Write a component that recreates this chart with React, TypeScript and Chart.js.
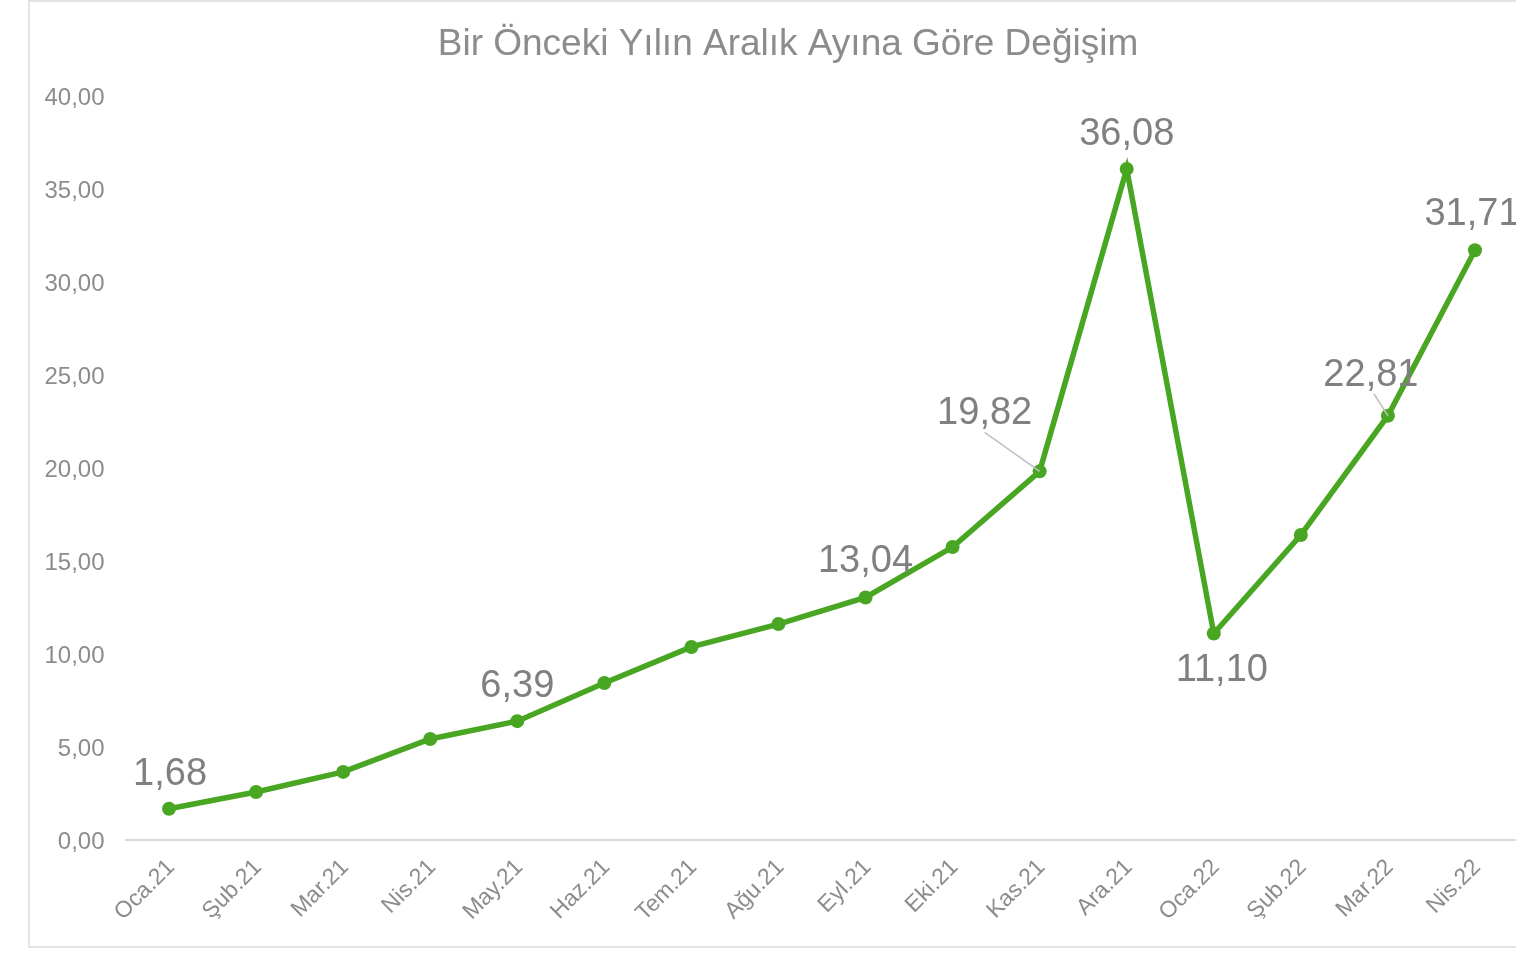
import React, { useEffect, useRef } from "react";
import { Chart, registerables } from "chart.js";

Chart.register(...registerables);

const chartTitle = "Bir Önceki Yılın Aralık Ayına Göre Değişim";
const months = [
  "Oca.21", "Şub.21", "Mar.21", "Nis.21", "May.21", "Haz.21", "Tem.21", "Ağu.21",
  "Eyl.21", "Eki.21", "Kas.21", "Ara.21", "Oca.22", "Şub.22", "Mar.22", "Nis.22",
];
const changeValues = [
  1.68, 2.58, 3.66, 5.43, 6.39, 8.44, 10.38, 11.61,
  13.04, 15.75, 19.82, 36.08, 11.1, 16.4, 22.81, 31.71,
];
// indices of points that carry a value label
const labeledPoints = [0, 4, 8, 10, 11, 12, 14, 15];
const yTicks = [0, 5, 10, 15, 20, 25, 30, 35, 40];

// label placement relative to its point (style only)
const labelPlacement: Record<number, { dx: number; dy: number; leader?: boolean }> = {
  0: { dx: 1, dy: -38 },
  4: { dx: 0, dy: -38 },
  8: { dx: 0, dy: -39 },
  10: { dx: -55, dy: -61, leader: true },
  11: { dx: 0, dy: -38 },
  12: { dx: 8, dy: 33 },
  14: { dx: -17, dy: -44, leader: true },
  15: { dx: -3, dy: -39 },
};

const fmt = (v: number) => v.toFixed(2).replace(".", ",");

const FONT = "'Liberation Sans', Arial, sans-serif";
const GREEN = "#48a622";

const titlePlugin = {
  id: "centeredTitle",
  afterDraw(chart: any) {
    const ctx = chart.ctx;
    ctx.save();
    ctx.font = `37px ${FONT}`;
    ctx.fillStyle = "#8c8c8c";
    ctx.textAlign = "center";
    ctx.textBaseline = "middle";
    ctx.fillText(chartTitle, chart.width / 2, 43);
    ctx.restore();
  },
};

const labelPlugin = {
  id: "valueLabels",
  afterDatasetsDraw(chart: any) {
    const ctx = chart.ctx;
    const meta = chart.getDatasetMeta(0);
    ctx.save();
    ctx.font = `38px ${FONT}`;
    ctx.textAlign = "center";
    ctx.textBaseline = "alphabetic";
    labeledPoints.forEach((i) => {
      const el = meta.data[i];
      if (!el) return;
      const p = labelPlacement[i] || { dx: 0, dy: -38 };
      const lx = el.x + p.dx;
      const ly = el.y + p.dy;
      if (p.leader) {
        ctx.strokeStyle = "#bfbfbf";
        ctx.lineWidth = 1.5;
        ctx.beginPath();
        const sx = lx + (p.dx < -30 ? 0 : 3);
        const sy = ly + 22;
        ctx.moveTo(sx, sy);
        ctx.lineTo(el.x, el.y);
        ctx.stroke();
      }
      ctx.fillStyle = "#808080";
      ctx.fillText(fmt(changeValues[i]), lx, ly + 14);
    });
    ctx.restore();
  },
};

export default function App() {
  const ref = useRef<HTMLCanvasElement | null>(null);

  useEffect(() => {
    if (!ref.current) return;
    const chart = new Chart(ref.current, {
      type: "line",
      data: {
        labels: months,
        datasets: [
          {
            data: changeValues,
            borderColor: GREEN,
            backgroundColor: GREEN,
            borderWidth: 5.5,
            pointRadius: 7,
            pointBackgroundColor: GREEN,
            pointBorderColor: GREEN,
            pointBorderWidth: 0,
            tension: 0,
          },
        ],
      },
      options: {
        responsive: false,
        animation: false,
        layout: { padding: { left: 0, right: 27.5, top: 94, bottom: 0 } },
        plugins: {
          legend: { display: false },
          tooltip: { enabled: false },
          title: { display: false },
        },
        scales: {
          x: {
            offset: true,
            grid: { display: false, drawTicks: false },
            border: { display: true, color: "#d9d9d9", width: 2 },
            ticks: {
              color: "#8c8c8c",
              font: { family: FONT, size: 23 },
              minRotation: 45,
              maxRotation: 45,
              padding: 14,
              labelOffset: 2,
              autoSkip: false,
            },
            afterFit: (s: any) => {
              s.height = 106;
            },
          },
          y: {
            min: 0,
            max: 40,
            afterBuildTicks: (s: any) => {
              s.ticks = yTicks.map((v) => ({ value: v }));
            },
            grid: { display: false, drawTicks: false },
            border: { display: false },
            ticks: {
              color: "#8c8c8c",
              font: { family: FONT, size: 24 },
              padding: 21,
              labelOffset: 2,
              callback: (v: any) => fmt(Number(v)),
            },
            afterFit: (s: any) => {
              s.width = 95.5;
            },
          },
        },
      },
      plugins: [labelPlugin, titlePlugin],
    } as any);
    return () => chart.destroy();
  }, []);

  return (
    <div style={{ position: "fixed", left: 0, top: 0, width: 1516, height: 954, overflow: "hidden", background: "#fff" }}>
      <div
        style={{
          position: "absolute",
          left: 28,
          top: 0,
          width: 1520,
          height: 948,
          border: "2px solid #e3e3e3",
          boxSizing: "border-box",
          background: "#fff",
        }}
      >
        <canvas ref={ref} width={1516} height={944} style={{ display: "block", width: 1516, height: 944 }} />
      </div>
    </div>
  );
}
